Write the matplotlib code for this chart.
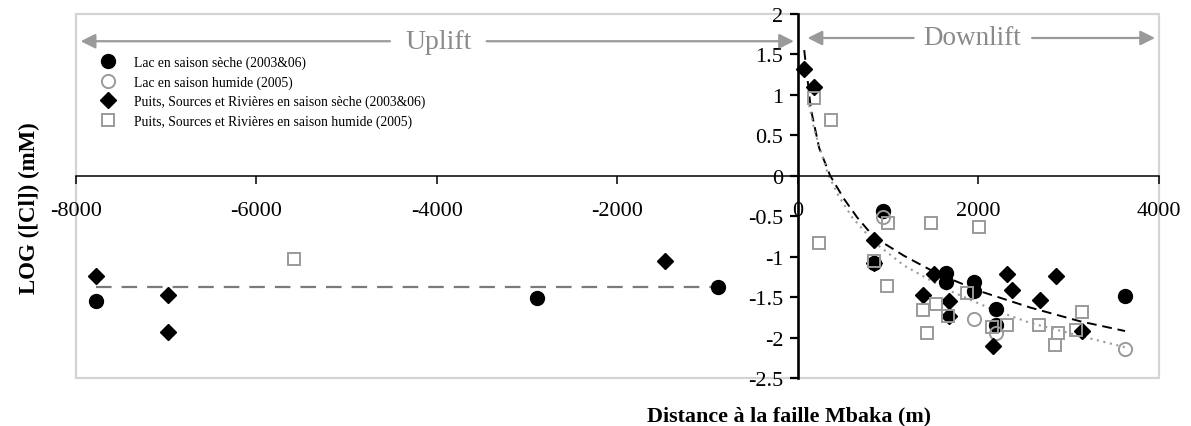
import matplotlib
matplotlib.use("Agg")
import matplotlib.pyplot as plt
from matplotlib.patches import Rectangle

plt.rcParams['font.family'] = ['Liberation Serif', 'DejaVu Serif']

# ---------------- data ----------------
lac_sec_x = [-7776, -2895, -887, 843, 945, 1645, 1645, 1950, 1950, 2195, 2195, 3624]
lac_sec_y = [-1.55, -1.51, -1.37, -1.08, -0.44, -1.20, -1.31, -1.32, -1.42, -1.65, -1.85, -1.49]

lac_hum_x = [945, 1950, 2195, 3624]
lac_hum_y = [-0.51, -1.77, -1.95, -2.14]

puits_sec_x = [-7776, -6973, -6973, -1477, 63, 173, 843, 843, 1383, 1506, 1672, 1672,
               2163, 2317, 2367, 2677, 2856, 3146]
puits_sec_y = [-1.24, -1.48, -1.93, -1.06, 1.32, 1.09, -0.79, -1.08, -1.48, -1.21, -1.55, -1.73,
               -2.10, -1.21, -1.41, -1.54, -1.24, -1.92]

puits_hum_x = [-5584, 173, 365, 236, 840, 1000, 991, 1383, 1433, 1474, 1530, 1661, 1875,
               2004, 2145, 2317, 2666, 2851, 2884, 3080, 3146]
puits_hum_y = [-1.03, 0.96, 0.69, -0.83, -1.05, -0.58, -1.365, -1.66, -1.95, -0.58, -1.59, -1.73, -1.455,
               -0.63, -1.865, -1.85, -1.845, -2.09, -1.95, -1.91, -1.69]

# trend lines
trend_sec_x = [70, 144, 236, 357, 512, 659, 843, 1175, 1544, 2022, 2575, 3127, 3624]
trend_sec_y = [1.55, 0.82, 0.34, 0.0, -0.29, -0.52, -0.76, -0.99, -1.21, -1.43, -1.63, -1.80, -1.92]

trend_hum_x = [110, 180, 329, 450, 604, 843, 1175, 1654, 2170, 2575, 3127, 3624]
trend_hum_y = [0.95, 0.57, 0.03, -0.25, -0.52, -0.82, -1.11, -1.41, -1.66, -1.82, -1.98, -2.12]

uplift_mean_x = [-7770, -760]
uplift_mean_y = [-1.373, -1.373]

labels = ["Lac en saison sèche (2003&06)",
          "Lac en saison humide (2005)",
          "Puits, Sources et Rivières en saison sèche (2003&06)",
          "Puits, Sources et Rivières en saison humide (2005)"]

x_ticks = [-8000, -6000, -4000, -2000, 0, 2000, 4000]
y_ticks = [-2.5, -2, -1.5, -1, -0.5, 0, 0.5, 1, 1.5, 2]
y_tick_labels = ["-2.5", "-2", "-1.5", "-1", "-0.5", "0", "0.5", "1", "1.5", "2"]

GRAY = '#9a9a9a'

# ---------------- figure ----------------
fig = plt.figure(figsize=(11.91, 4.27), dpi=100)
ax = fig.add_axes([75.7 / 1191, 1 - 379 / 427, (1159 - 75.7) / 1191, (379 - 14.7) / 427])
ax.set_xlim(-8000, 4000)
ax.set_ylim(-2.5, 2)

# light grey outer frame
ax.add_patch(Rectangle((0, 0), 1, 1, transform=ax.transAxes, fill=False,
                       edgecolor='#d4d4d4', lw=1.6, zorder=0.5, clip_on=False))

for s in ['top', 'right']:
    ax.spines[s].set_visible(False)
ax.spines['left'].set_position(('data', 0))
ax.spines['bottom'].set_position(('data', 0))
ax.spines['left'].set_linewidth(1.9)
ax.spines['bottom'].set_linewidth(1.1)

ax.set_xticks(x_ticks)
ax.set_xticklabels([str(v) for v in x_ticks])
ax.set_yticks(y_ticks)
ax.set_yticklabels(y_tick_labels)
ax.tick_params(axis='x', direction='out', length=5.5, width=1.1, labelsize=16, pad=13)
ax.tick_params(axis='y', direction='out', length=5.5, width=1.6, labelsize=16, pad=5)

# trend lines
ax.plot(uplift_mean_x, uplift_mean_y, color='#7a7a7a', lw=1.6, dashes=(7, 4.5), zorder=2)
ax.plot(trend_sec_x, trend_sec_y, color='black', lw=1.4, dashes=(5, 3), zorder=2)
ax.plot(trend_hum_x, trend_hum_y, color=GRAY, lw=1.5, dashes=(1, 2.2), zorder=2)

# data series
ax.plot(lac_sec_x, lac_sec_y, ls='none', marker='o', ms=10, mfc='black', mec='black',
        label=labels[0], zorder=3)
ax.plot(lac_hum_x, lac_hum_y, ls='none', marker='o', ms=9.5, mfc='none', mec=GRAY, mew=1.4,
        label=labels[1], zorder=4)
ax.plot(puits_sec_x, puits_sec_y, ls='none', marker='D', ms=8.0, mfc='black', mec='black',
        label=labels[2], zorder=5)
ax.plot(puits_hum_x, puits_hum_y, ls='none', marker='s', ms=8.5, mfc='none', mec=GRAY, mew=1.4,
        label=labels[3], zorder=6)

leg = ax.legend(loc='upper left', bbox_to_anchor=(0.0237, 0.885), frameon=False,
                fontsize=9.8, handlelength=1.0, handletextpad=1.4, labelspacing=0.45,
                borderpad=0, borderaxespad=0, numpoints=1)

# Uplift / Downlift arrows
ap = dict(arrowstyle='-|>', color=GRAY, lw=1.6, mutation_scale=22, shrinkA=0, shrinkB=0)
ax.annotate('', xy=(-7945, 1.66), xytext=(-4519, 1.66), arrowprops=ap)
ax.annotate('', xy=(-44, 1.66), xytext=(-3448, 1.66), arrowprops=ap)
ax.text(-3978, 1.66, 'Uplift', color='#8a8a8a', fontsize=20, ha='center', va='center')
ax.annotate('', xy=(107, 1.70), xytext=(1282, 1.70), arrowprops=ap)
ax.annotate('', xy=(3956, 1.70), xytext=(2594, 1.70), arrowprops=ap)
ax.text(1931, 1.70, 'Downlift', color='#8a8a8a', fontsize=19.5, ha='center', va='center')

# axis labels
fig.text(789 / 1191, 1 - 416 / 427, 'Distance à la faille Mbaka (m)', fontsize=15.8,
         fontweight='bold', ha='center', va='center')
fig.text(29 / 1191, 1 - 208 / 427, 'LOG ([Cl]) (mM)', fontsize=16.5, fontweight='bold',
         rotation=90, ha='center', va='center')

fig.savefig('out.png', dpi=100)
